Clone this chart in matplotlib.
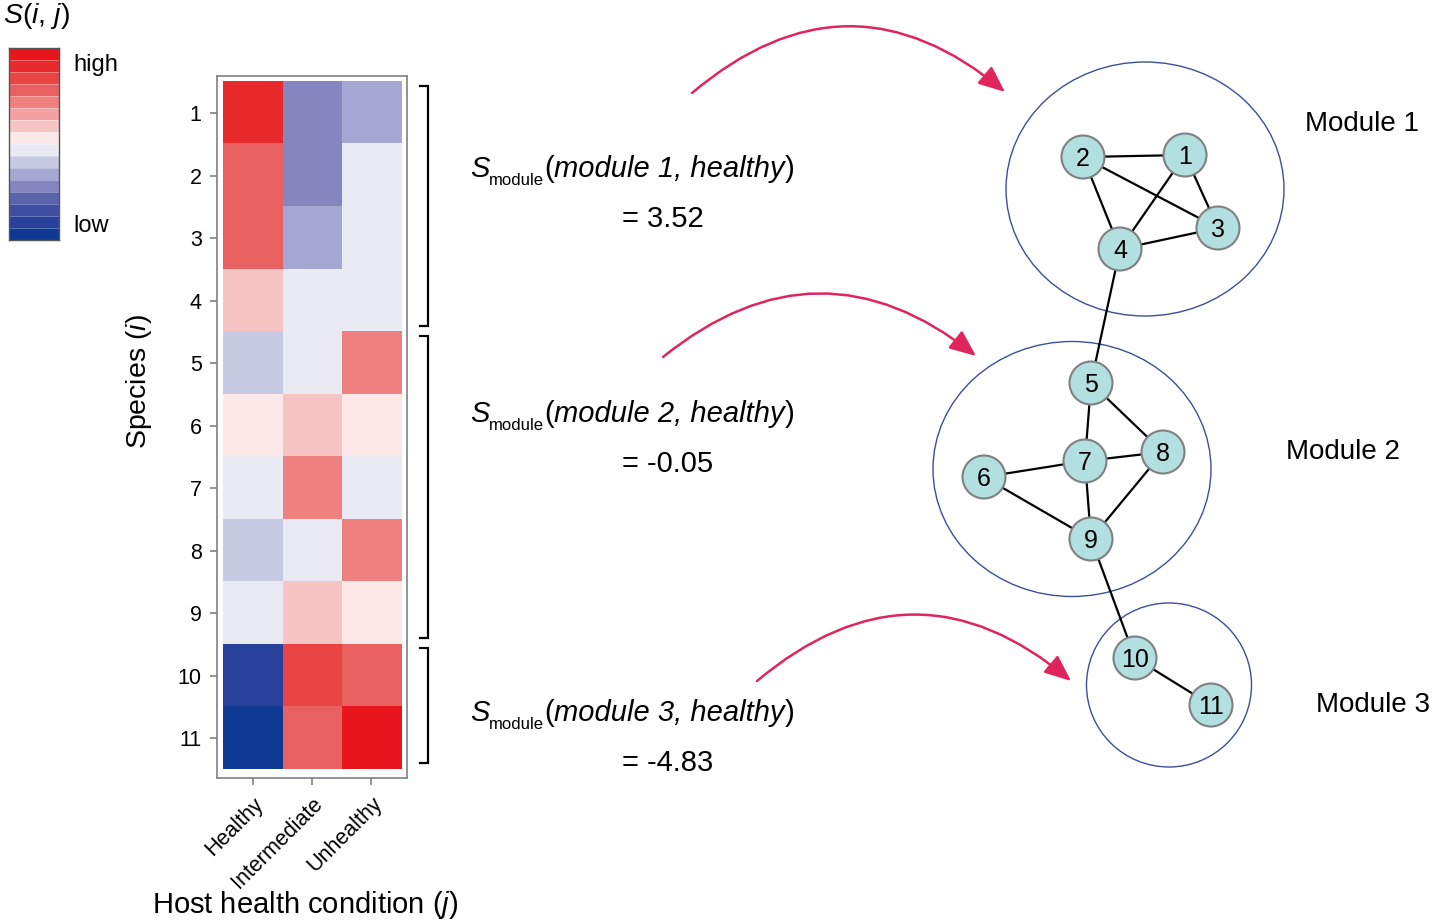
import numpy as np
import matplotlib
matplotlib.use('Agg')
import matplotlib.pyplot as plt
from matplotlib.colors import ListedColormap
from matplotlib.patches import Ellipse, Circle, FancyArrowPatch

plt.rcParams['font.family'] = ['Liberation Sans', 'DejaVu Sans']
plt.rcParams['mathtext.fontset'] = 'custom'
plt.rcParams['mathtext.rm'] = 'Liberation Sans'
plt.rcParams['mathtext.it'] = 'Liberation Sans:italic'

# ---- data ----
conditions = ['Healthy', 'Intermediate', 'Unhealthy']
species = [str(i) for i in range(1, 12)]

# colour level of each cell: 0 = low (dark blue) ... 15 = high (red)
heat_levels = np.array([
    [14, 4, 5],
    [12, 4, 7],
    [12, 5, 7],
    [9, 7, 7],
    [6, 7, 11],
    [8, 9, 8],
    [7, 11, 7],
    [6, 7, 11],
    [7, 9, 8],
    [1, 13, 12],
    [0, 12, 15],
])

# 16 colour bands, low -> high
band_colors = ['#0F3A94', '#28429B', '#3F4DA3', '#5C63AD', '#8586C0', '#A5A7D3',
               '#C8C9E3', '#E9EAF4', '#FCE8E8', '#F7C4C4', '#F2A0A0', '#EE8080',
               '#E96060', '#E84444', '#E82A2C', '#E8161C']

module_names = ['Module 1', 'Module 2', 'Module 3']
module_scores = [3.52, -0.05, -4.83]
module_rows = [(1, 4), (5, 9), (10, 11)]

# network layout (pixel positions)
node_x = [1185, 1083, 1218, 1120, 1091, 984, 1085, 1163, 1091, 1135, 1211]
node_y = [155, 157, 228, 249, 383, 477, 461, 452, 539, 658, 705]
edges = [(1, 2), (1, 3), (1, 4), (2, 3), (2, 4), (3, 4), (4, 5), (5, 7), (5, 8),
         (6, 7), (6, 9), (7, 8), (7, 9), (8, 9), (9, 10), (10, 11)]

# ---- layout ----
W, H = 1435, 923
ell_center = [(1145, 189), (1072, 469), (1169, 685)]
ell_size = [(278, 254), (278, 255), (165, 164)]
label_pos = [(1362, 124), (1343, 452), (1373, 705)]
text_y = [177, 422, 721]
arrow_start = [(692, 93), (663, 357), (757, 681)]
arrow_end = [(1005, 92), (976, 356), (1071, 681)]
arrow_rad = [-0.42, -0.40, -0.42]
arrow_col = '#E0245E'


def px_rect(x0, y0, x1, y1):
    return [x0 / W, 1 - y1 / H, (x1 - x0) / W, (y1 - y0) / H]


fig = plt.figure(figsize=(W / 100, H / 100), dpi=100)

ov = fig.add_axes([0, 0, 1, 1], zorder=0)
ov.set_xlim(0, W)
ov.set_ylim(H, 0)
ov.axis('off')

cmap = ListedColormap(band_colors)

# heatmap
ax = fig.add_axes(px_rect(217, 76, 407, 778), zorder=1)
ax.imshow(heat_levels, cmap=cmap, vmin=-0.5, vmax=15.5, aspect='auto',
          interpolation='nearest')
ax.set_xlim(-0.6, 2.6)
ax.set_ylim(len(species) - 0.5 + 0.14, -0.6)
ax.set_xticks(range(len(conditions)))
ax.set_xticklabels(conditions, rotation=45, ha='right', va='top',
                   rotation_mode='anchor', fontsize=15.5)
ax.set_yticks(range(len(species)))
ax.set_yticklabels(species, fontsize=15.5)
for sp in ax.spines.values():
    sp.set_color('#808080')
    sp.set_linewidth(1.2)
ax.tick_params(color='#808080', length=5, width=1.2, pad=6)

# brackets next to the heatmap
for a, b in module_rows:
    y0 = a - 1 - 0.5 + 0.06
    y1 = b - 1 + 0.5 - 0.1
    ax.plot([2.82, 2.955, 2.955, 2.82], [y0, y0, y1, y1], color='black',
            lw=1.6, clip_on=False, solid_joinstyle='miter')

ov.text(139, 382, 'Species ($i$)', rotation=90, ha='center', va='center',
        fontsize=20.5)
ov.text(305, 905, 'Host health condition ($j$)', ha='center', va='center',
        fontsize=21)

# colour key
cax = fig.add_axes(px_rect(9, 48, 59, 240), zorder=1)
cax.imshow(np.arange(len(band_colors))[::-1].reshape(-1, 1), cmap=cmap,
           vmin=-0.5, vmax=15.5, aspect='auto')
for k in range(len(band_colors) - 1):
    cax.axhline(k + 0.5, color='white', lw=0.6, alpha=0.35)
cax.set_xticks([])
cax.set_yticks([])
for sp in cax.spines.values():
    sp.set_color('#555555')
    sp.set_linewidth(1)
ov.text(3, 16, '$S$($i$, $j$)', ha='left', va='center', fontsize=20.5)
ov.text(73, 65, 'high', ha='left', va='center', fontsize=17)
ov.text(73, 226, 'low', ha='left', va='center', fontsize=17)

# network
for c, s in zip(ell_center, ell_size):
    ov.add_patch(Ellipse(c, s[0], s[1], fill=False, edgecolor='#3B4F9A', lw=1))
for a, b in edges:
    ov.plot([node_x[a - 1], node_x[b - 1]], [node_y[a - 1], node_y[b - 1]],
            color='black', lw=1.6, zorder=2)
for k in range(len(node_x)):
    ov.add_patch(Circle((node_x[k], node_y[k]), 21.5, facecolor='#B2DFE0',
                        edgecolor='#808080', lw=1.5, zorder=3))
    ov.text(node_x[k], node_y[k] + 9, str(k + 1), ha='center', va='baseline',
            fontsize=18, zorder=4)
for name, p in zip(module_names, label_pos):
    ov.text(p[0], p[1], name, ha='center', va='center', fontsize=20)

# arrows
for s, e, r in zip(arrow_start, arrow_end, arrow_rad):
    ov.add_patch(FancyArrowPatch(s, e, connectionstyle=f'arc3,rad={r}',
                                 arrowstyle='-|>,head_length=0.9,head_width=0.38',
                                 mutation_scale=18, color=arrow_col, lw=1.8,
                                 shrinkA=0, shrinkB=0))

# S_module texts
fig.canvas.draw()
rend = fig.canvas.get_renderer()
for k, v in enumerate(module_scores):
    x = 470
    y = text_y[k]
    parts = [('S', 21, 'italic', 0), ('module', 12, 'normal', 8),
             ('(', 21, 'normal', 0), (f'module {k + 1}, healthy', 21, 'italic', 0),
             (')', 21, 'normal', 0)]
    for s, size, style, dy in parts:
        t = ov.text(x, y + dy, s, fontsize=size, style=style, ha='left',
                    va='baseline')
        x = t.get_window_extent(rend).x1
    ov.text(622, y + 50, f'= {v:.2f}', fontsize=21, ha='left', va='baseline')

fig.savefig('out.png', dpi=100)
